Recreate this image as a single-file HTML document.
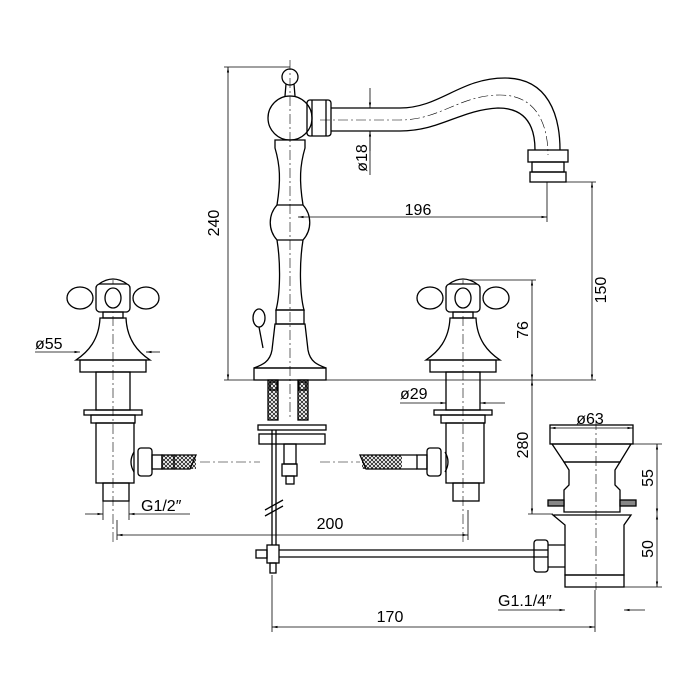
<!DOCTYPE html>
<html><head><meta charset="utf-8"><style>
html,body{margin:0;padding:0;background:#fff}
svg{display:block}
text{font-family:"Liberation Sans",sans-serif;font-size:16px;fill:#000}
</style></head><body>
<svg width="700" height="700" viewBox="0 0 700 700" xmlns="http://www.w3.org/2000/svg">
<defs>
<marker id="a" viewBox="0 0 10 10" refX="10" refY="5" markerWidth="7" markerHeight="7" orient="auto-start-reverse"><path d="M0,3 L10,5 L0,7 z" fill="#000"/></marker>
<pattern id="h" width="4" height="4" patternUnits="userSpaceOnUse"><path d="M0,0 L4,4 M4,0 L0,4" stroke="#000" stroke-width="0.7"/></pattern>
</defs>
<g fill="none" stroke="#000" stroke-width="1.3">
<g stroke-width="0.6" stroke-dasharray="10,3,2,3">
<line x1="290" y1="60" x2="290" y2="420"/><line x1="113" y1="280" x2="113" y2="545"/><line x1="463" y1="280" x2="463" y2="545"/>
<line x1="200" y1="462" x2="260" y2="462"/><line x1="320" y1="462" x2="360" y2="462"/>
<line x1="596" y1="420" x2="596" y2="590"/>
<path d="M320,120 L400,120 C440,120 460,95 500,95 C540,95 548,130 548,155"/>
</g>
<circle cx="290" cy="77" r="8"/><path d="M286,84 L285,96 M294,84 L295,96"/>
<ellipse cx="290" cy="118" rx="22" ry="22"/>
<rect x="307" y="100" width="24" height="36" rx="3"/><line x1="312" y1="100" x2="312" y2="136"/><line x1="326" y1="100" x2="326" y2="136"/>
<path d="M331,108 L400,108 C440,108 460,78 505,78 C548,78 560,115 560,150"/>
<path d="M331,131 L400,131 C440,131 460,110 498,108 C525,108 535,125 535,150"/>
<rect x="528" y="150" width="40" height="12"/><rect x="532" y="162" width="32" height="10"/><rect x="530" y="172" width="36" height="10"/>
<path d="M275,140 L305,140 L305,148 C300,165 299,180 303,205 L277,205 C281,180 280,165 275,148 Z"/>
<path d="M277,205 C268,215 268,230 277,240 L303,240 C312,230 312,215 303,205"/>
<path d="M277,240 C281,265 280,295 276,310 L304,310 C300,295 299,265 303,240"/>
<rect x="276" y="310" width="28" height="14"/>
<path d="M275,324 L305,324 L308,350 C310,362 318,365 326,368 L254,368 C262,365 270,362 272,350 Z"/>
<rect x="254" y="368" width="72" height="12"/>
<ellipse cx="259" cy="318" rx="6" ry="9"/><path d="M259,327 L263,348"/>
<rect x="268" y="380" width="10" height="40" fill="url(#h)"/><rect x="298" y="380" width="10" height="40" fill="url(#h)"/>
<rect x="270" y="382" width="7" height="8"/><rect x="299" y="382" width="7" height="8"/>
<rect x="258" y="425" width="68" height="5"/><rect x="259" y="434" width="66" height="10"/>
<rect x="284" y="444" width="12" height="20"/><rect x="282" y="464" width="15" height="12"/><rect x="286" y="476" width="8" height="8"/>
<path d="M272,430 L272,545 M276,430 L276,545"/><path d="M265,510 L283,500 M265,516 L283,506"/>
<rect x="267" y="545" width="12" height="18"/><rect x="270" y="563" width="6" height="10"/>
<rect x="256" y="550" width="11" height="8"/>
<path d="M279,550 L548,550 M279,557 L548,557"/>
<g id="hl">
<ellipse cx="80" cy="298" rx="13" ry="11"/><ellipse cx="146" cy="298" rx="13" ry="11"/>
<rect x="96" y="284" width="34" height="28" rx="4" fill="#fff"/>
<path d="M99,284 Q113,274 127,284"/>
<ellipse cx="113" cy="298" rx="8" ry="10"/>
<rect x="103" y="312" width="20" height="6"/>
<path d="M100,318 L126,318 C127,340 138,352 150,360 L76,360 C88,352 99,340 100,318 Z"/>
<rect x="80" y="360" width="66" height="12"/>
<rect x="96" y="372" width="34" height="38"/>
<rect x="84" y="410" width="58" height="5"/><rect x="91" y="415" width="44" height="8"/>
<rect x="96" y="423" width="38" height="60"/>
<rect x="103" y="483" width="26" height="18"/>
</g>
<use href="#hl" transform="translate(350,0)"/>
<path d="M134,452 Q128,462 134,472"/><rect x="138" y="448" width="14" height="28" rx="3"/><rect x="152" y="455" width="10" height="14"/>
<rect x="162" y="455" width="12" height="14" fill="url(#h)"/><path d="M174,455 L196,455 L190,469 L174,469"/>
<rect x="174" y="455" width="22" height="14" fill="url(#h)" stroke="none"/>
<path d="M445,452 Q451,462 445,472"/><rect x="427" y="448" width="14" height="28" rx="3"/><rect x="417" y="455" width="10" height="14"/>
<path d="M417,455 L360,455 L366,469 L417,469"/><rect x="362" y="455" width="40" height="14" fill="url(#h)" stroke="none"/>
<rect x="550" y="425" width="83" height="19"/>
<path d="M552,444 L631,444 L620,462 L564,462 Z"/>
<path d="M564,462 L620,462 L615,470 L615,485 L620,490 L620,512 L564,512 L564,490 L569,485 L569,470 Z"/>
<rect x="548" y="500" width="16" height="6" fill="#888"/><rect x="620" y="500" width="16" height="6" fill="#888"/>
<path d="M553,515 L631,515 L624,525 L624,575 L565,575 L565,525 Z"/>
<rect x="565" y="575" width="59" height="12"/>
<rect x="534" y="540" width="14" height="32" rx="3"/><path d="M548,545 L565,545 M548,567 L565,567"/>
<g stroke-width="0.8">
<line x1="224" y1="67" x2="290" y2="67"/><line x1="224" y1="380" x2="254" y2="380"/>
<line x1="228" y1="67" x2="228" y2="380" marker-start="url(#a)" marker-end="url(#a)"/>
<line x1="298" y1="217" x2="547" y2="217" marker-start="url(#a)" marker-end="url(#a)"/><line x1="547" y1="182" x2="547" y2="222"/>
<line x1="566" y1="182" x2="596" y2="182"/><line x1="326" y1="380" x2="596" y2="380"/>
<line x1="592" y1="182" x2="592" y2="380" marker-start="url(#a)" marker-end="url(#a)"/>
<line x1="470" y1="280" x2="536" y2="280"/>
<line x1="532" y1="280" x2="532" y2="380" marker-start="url(#a)" marker-end="url(#a)"/>
<line x1="532" y1="380" x2="532" y2="514" marker-start="url(#a)" marker-end="url(#a)"/><line x1="528" y1="514" x2="553" y2="514"/>
<line x1="370" y1="88" x2="370" y2="108" marker-end="url(#a)"/><line x1="370" y1="131" x2="370" y2="151" marker-start="url(#a)"/><line x1="370" y1="131" x2="370" y2="175"/>
<line x1="35" y1="352" x2="80" y2="352" marker-end="url(#a)"/><line x1="160" y1="352" x2="146" y2="352" marker-end="url(#a)"/>
<line x1="400" y1="403" x2="446" y2="403" marker-end="url(#a)"/><line x1="505" y1="403" x2="480" y2="403" marker-end="url(#a)"/>
<line x1="550" y1="428" x2="633" y2="428" marker-start="url(#a)" marker-end="url(#a)"/>
<line x1="633" y1="444" x2="662" y2="444"/><line x1="624" y1="587" x2="662" y2="587"/>
<line x1="657" y1="444" x2="657" y2="514" marker-start="url(#a)" marker-end="url(#a)"/>
<line x1="657" y1="514" x2="657" y2="587" marker-start="url(#a)" marker-end="url(#a)"/>
<line x1="103" y1="501" x2="103" y2="520"/><line x1="129" y1="501" x2="129" y2="520"/>
<line x1="85" y1="514" x2="103" y2="514" marker-end="url(#a)"/><line x1="190" y1="514" x2="129" y2="514" marker-end="url(#a)"/>
<line x1="117" y1="520" x2="117" y2="540"/><line x1="468" y1="510" x2="468" y2="540"/>
<line x1="117" y1="535" x2="468" y2="535" marker-start="url(#a)" marker-end="url(#a)"/>
<line x1="272" y1="575" x2="272" y2="632"/><line x1="595" y1="590" x2="595" y2="632"/>
<line x1="272" y1="627" x2="595" y2="627" marker-start="url(#a)" marker-end="url(#a)"/>
<line x1="498" y1="610" x2="565" y2="610" marker-end="url(#a)"/><line x1="645" y1="610" x2="624" y2="610" marker-end="url(#a)"/>
</g>
</g>
<text x="228" y="232" text-anchor="middle" transform="rotate(-90 219 232)">240</text>
<text x="418" y="215" text-anchor="middle">196</text>
<text x="601" y="290" text-anchor="middle" transform="rotate(-90 601 290)" dy="5">150</text>
<text x="523" y="330" text-anchor="middle" transform="rotate(-90 523 330)" dy="5">76</text>
<text x="523" y="445" text-anchor="middle" transform="rotate(-90 523 445)" dy="5">280</text>
<text x="362" y="158" text-anchor="middle" transform="rotate(-90 362 158)" dy="5">ø18</text>
<text x="35" y="349">ø55</text>
<text x="400" y="399">ø29</text>
<text x="590" y="424" text-anchor="middle">ø63</text>
<text x="648" y="478" text-anchor="middle" transform="rotate(-90 648 478)" dy="5">55</text>
<text x="648" y="549" text-anchor="middle" transform="rotate(-90 648 549)" dy="5">50</text>
<text x="141" y="511">G1/2″</text>
<text x="330" y="529" text-anchor="middle">200</text>
<text x="390" y="622" text-anchor="middle">170</text>
<text x="498" y="606">G1.1/4″</text>
</svg>
</body></html>
